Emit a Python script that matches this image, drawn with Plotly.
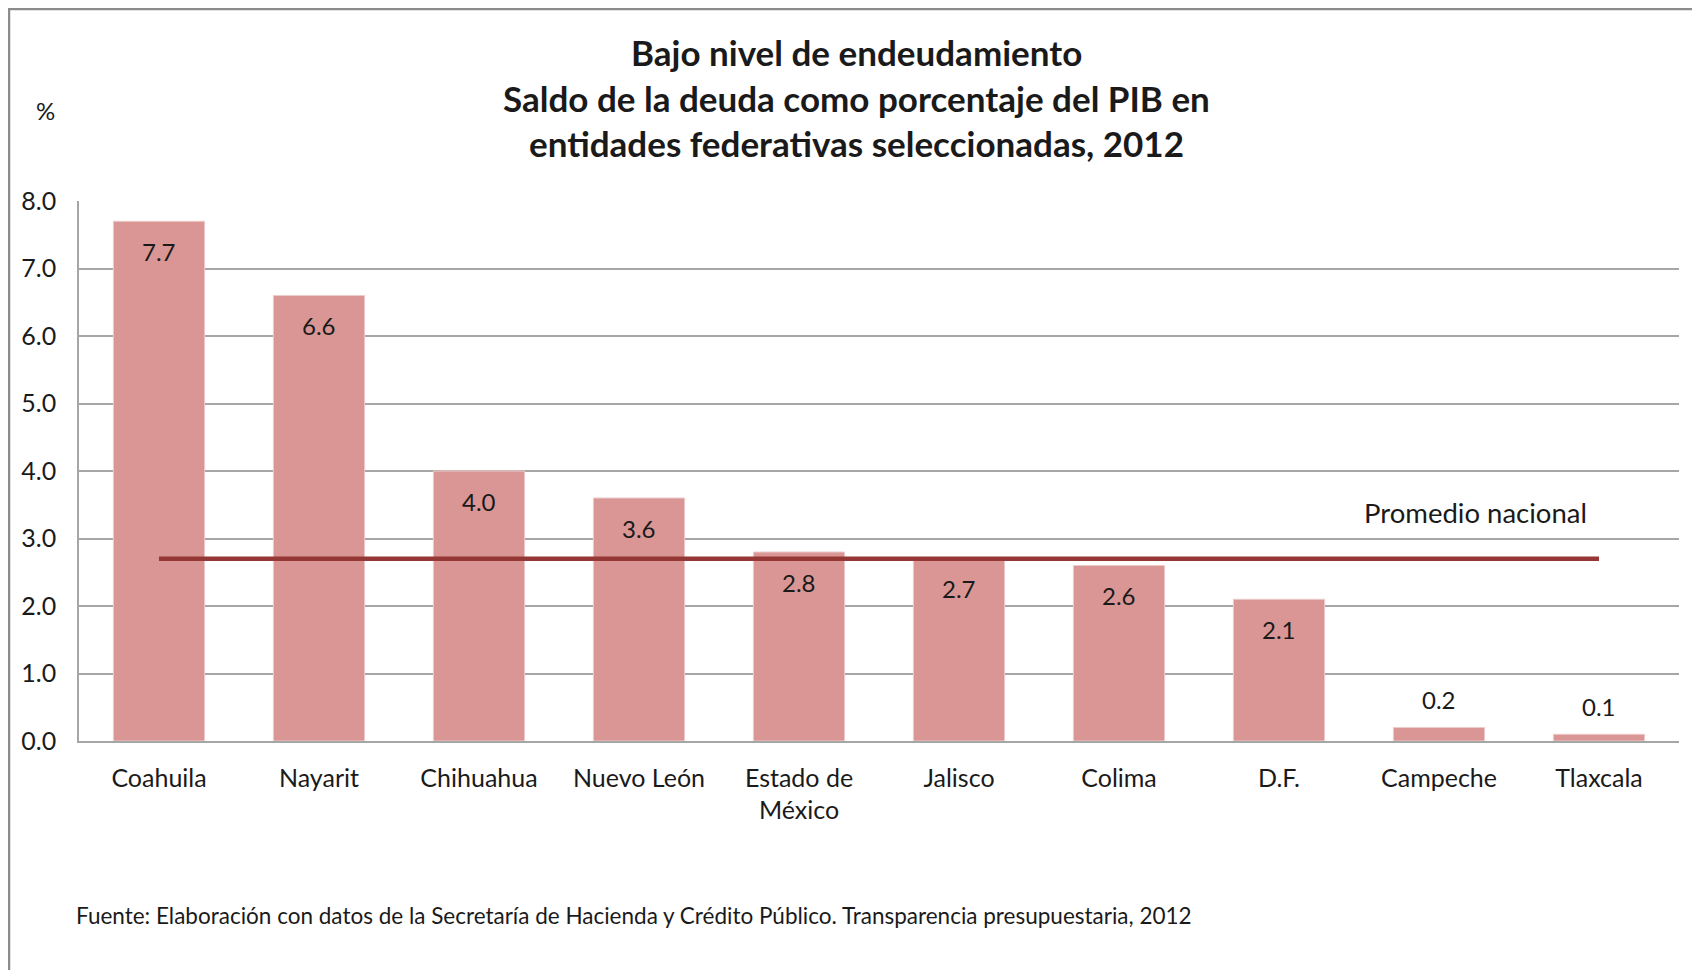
import plotly.graph_objects as go

categories = ["Coahuila", "Nayarit", "Chihuahua", "Nuevo León", "Estado de<br>México",
              "Jalisco", "Colima", "D.F.", "Campeche", "Tlaxcala"]
deuda_pib = [7.7, 6.6, 4.0, 3.6, 2.8, 2.7, 2.6, 2.1, 0.2, 0.1]
promedio_nacional = 2.7
y_ticks = [0, 1, 2, 3, 4, 5, 6, 7, 8]

title_lines = ["Bajo nivel de endeudamiento",
               "Saldo de la deuda como porcentaje del PIB en",
               "entidades federativas seleccionadas, 2012"]
fuente = "Fuente: Elaboración con datos de la Secretaría de Hacienda y Crédito Público. Transparencia presupuestaria, 2012"

FONT = "Lato"
TXT = "#1a1a1a"
OFF = 8  # page body margin
W, H = 1700 - 2 * OFF, 978 - 2 * OFF
# plot area in figure pixels (page pixels minus body margin)
L, R, T, B = 79 - OFF, 1679 - OFF, 201 - OFF, 741 - OFF
PW, PH = R - L, B - T


def px(x):  # page pixel -> paper
    return (x - OFF - L) / PW


def py(y):
    return (B - (y - OFF)) / PH


fig = go.Figure()
fig.add_trace(go.Bar(
    x=categories, y=deuda_pib,
    marker=dict(color="#D99694", line=dict(color="#EDCBCA", width=1)),
    showlegend=False, hoverinfo="x+y",
))
fig.add_trace(go.Scatter(
    x=categories, y=[promedio_nacional] * len(categories),
    mode="lines", line=dict(color="#953735", width=4.5),
    showlegend=False, hoverinfo="skip",
))

annotations = []
for c, v in zip(categories, deuda_pib):
    inside = v > 1
    annotations.append(dict(
        x=c, y=v, xref="x", yref="y", text=f"{v:.1f}", showarrow=False,
        yshift=-30 if inside else 28, font=dict(family=FONT, size=24, color=TXT),
    ))
for i, t in enumerate(title_lines):
    annotations.append(dict(
        x=px(856), y=py(52 + 45.5 * i), xref="paper", yref="paper", text=f"<b>{t}</b>",
        showarrow=False, xanchor="center", yanchor="middle",
        font=dict(family=FONT, size=35, color=TXT),
    ))
annotations.append(dict(x=px(45), y=py(111), xref="paper", yref="paper", text="%",
                        showarrow=False, xanchor="center", yanchor="middle",
                        font=dict(family=FONT, size=24, color=TXT)))
annotations.append(dict(x=px(1475), y=py(512), xref="paper", yref="paper", text="Promedio nacional",
                        showarrow=False, xanchor="center", yanchor="middle",
                        font=dict(family=FONT, size=27.5, color=TXT)))
annotations.append(dict(x=px(74), y=py(916), xref="paper", yref="paper", text=fuente,
                        showarrow=False, xanchor="left", yanchor="middle",
                        font=dict(family=FONT, size=22.5, color=TXT)))

shapes = [
    dict(type="line", xref="paper", yref="paper", x0=px(8), x1=px(1700), y0=py(9), y1=py(9),
         line=dict(color="#8C8C8C", width=2.5)),
    dict(type="line", xref="paper", yref="paper", x0=px(9), x1=px(9), y0=py(8), y1=py(978),
         line=dict(color="#8C8C8C", width=2.5)),
]

fig.update_layout(
    width=W, height=H,
    margin=dict(l=L, r=W - R, t=T, b=H - B, pad=0, autoexpand=False),
    paper_bgcolor="white", plot_bgcolor="white",
    bargap=0.43,
    font=dict(family=FONT, size=24, color=TXT),
    annotations=annotations, shapes=shapes,
    xaxis=dict(showgrid=False, showline=True, linecolor="#A6A6A6", linewidth=1.5,
               automargin=False,
               ticks="outside", ticklen=14, tickcolor="rgba(0,0,0,0)",
               tickfont=dict(family=FONT, size=25, color=TXT), fixedrange=True),
    yaxis=dict(range=[0, 8], tickvals=y_ticks, tickformat=".1f",
               automargin=False,
               showgrid=True, gridcolor="#A6A6A6", gridwidth=1.5,
               showline=True, linecolor="#A6A6A6", linewidth=1.5, zeroline=False,
               ticks="outside", ticklen=16, tickcolor="rgba(0,0,0,0)",
               tickfont=dict(family=FONT, size=25, color=TXT), fixedrange=True),
)

fig.write_html("out.html")
